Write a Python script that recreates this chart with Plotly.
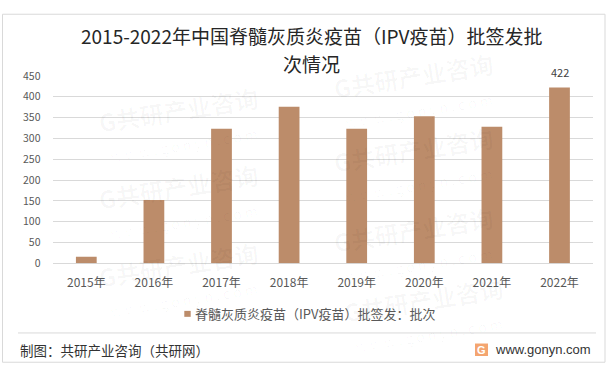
import plotly.graph_objects as go

W, H = 613, 375

# ---- data ----
years = ["2015年", "2016年", "2017年", "2018年", "2019年", "2020年", "2021年", "2022年"]
batches = [16, 152, 323, 376, 323, 353, 328, 422]
series_name = "脊髓灰质炎疫苗（IPV疫苗）批签发：批次"
title_lines = ["2015-2022年中国脊髓灰质炎疫苗（IPV疫苗）批签发批", "次情况"]
y_ticks = [0, 50, 100, 150, 200, 250, 300, 350, 400, 450]
source_text = "制图：共研产业咨询（共研网）"
site_text = "www.gonyn.com"

BAR = "#BC8C6A"
GRID = "#D9D9D9"
CJK = "'Noto Sans CJK SC', 'Microsoft YaHei', sans-serif"
LAT = "'Liberation Sans', Arial, 'Noto Sans CJK SC', sans-serif"


def fx(x):
    return x / W


def fy(y):
    return 1 - y / H


fig = go.Figure(
    go.Bar(
        x=years,
        y=batches,
        name=series_name,
        marker=dict(color=BAR, line=dict(width=0)),
        showlegend=False,
    )
)

fig.update_layout(
    width=W,
    height=H,
    margin=dict(l=0, r=0, t=0, b=0),
    paper_bgcolor="white",
    plot_bgcolor="rgba(0,0,0,0)",
    bargap=0.693,
    showlegend=False,
    font=dict(family=CJK, color="#595959"),
)
fig.update_xaxes(
    domain=[fx(52.5), fx(593.3)],
    showgrid=False,
    showline=False,
    zeroline=False,
    ticks="",
    tickfont=dict(size=12, color="#595959", family=CJK),
    ticklabelstandoff=11,
    fixedrange=True,
)
fig.update_yaxes(
    domain=[fy(266), fy(70.7)],
    range=[0, 450],
    tickvals=y_ticks,
    showgrid=True,
    gridcolor=GRID,
    gridwidth=1,
    zeroline=True,
    zerolinecolor=GRID,
    zerolinewidth=1,
    showline=False,
    ticks="",
    tickfont=dict(size=10.5, color="#595959", family=CJK),
    ticklabelstandoff=11,
    fixedrange=True,
)

ann = []
shapes = []

# faint watermark tiles (decoration)
wm_tiles = [(180, 120), (180, 200), (180, 282), (415, 85), (415, 162), (415, 245), (425, 318)]
for cx, cy in wm_tiles:
    ann.append(dict(
        x=fx(cx), y=fy(cy), xref="paper", yref="paper",
        xanchor="center", yanchor="middle", showarrow=False,
        textangle=-9,
        text="<b>G共研产业咨询</b><br><span style='font-size:14px'>w w w . g o n y n . c o m</span>",
        font=dict(size=24, color="rgba(0,0,0,0.03)", family=CJK),
    ))

# outer border
shapes.append(dict(type="rect", xref="paper", yref="paper",
                   x0=fx(2.5), x1=fx(605), y0=fy(369), y1=fy(6.5),
                   line=dict(color=GRID, width=1), fillcolor="rgba(0,0,0,0)", layer="below"))

# title
ann.append(dict(x=fx(311), y=fy(28.5), xref="paper", yref="paper", xanchor="center",
                yanchor="middle", showarrow=False, text=title_lines[0],
                font=dict(size=19, color="#262626", family=CJK)))
ann.append(dict(x=fx(311), y=fy(57.5), xref="paper", yref="paper", xanchor="center",
                yanchor="middle", showarrow=False, text=title_lines[1],
                font=dict(size=19, color="#262626", family=CJK)))

# data label on last bar
ann.append(dict(x=years[-1], y=batches[-1], xref="x", yref="y", xanchor="center",
                yanchor="bottom", yshift=6, showarrow=False, text=str(batches[-1]),
                font=dict(size=11, color="#404040", family=CJK)))

# legend
shapes.append(dict(type="rect", xref="paper", yref="paper",
                   x0=fx(184.3), x1=fx(190.7), y0=fy(321.7), y1=fy(315.5),
                   line=dict(width=0), fillcolor=BAR))
ann.append(dict(x=fx(193), y=fy(318.5), xref="paper", yref="paper", xanchor="left",
                yanchor="middle", showarrow=False, text=series_name,
                font=dict(size=13, color="#595959", family=CJK)))

# footer separator
shapes.append(dict(type="line", xref="paper", yref="paper",
                   x0=fx(18), x1=fx(596), y0=fy(338.5), y1=fy(338.5),
                   line=dict(color=GRID, width=1)))
ann.append(dict(x=fx(18), y=fy(356.7), xref="paper", yref="paper", xanchor="left",
                yanchor="middle", showarrow=False, text=source_text,
                font=dict(size=13.5, color="#333333", family=CJK)))

# logo
shapes.append(dict(type="rect", xref="paper", yref="paper",
                   x0=fx(475), x1=fx(488), y0=fy(362.5), y1=fy(349.5),
                   line=dict(width=0), fillcolor="#F4A570"))
ann.append(dict(x=fx(481.5), y=fy(356), xref="paper", yref="paper", xanchor="center",
                yanchor="middle", showarrow=False, text="<b>G</b>",
                font=dict(size=11, color="white", family=LAT)))
ann.append(dict(x=fx(493), y=fy(355.7), xref="paper", yref="paper", xanchor="left",
                yanchor="middle", showarrow=False, text=site_text,
                font=dict(size=13, color="#333333", family=LAT)))

fig.update_layout(annotations=ann, shapes=shapes)

fig.write_html(
    "out.html",
    config={"displayModeBar": False},
    post_script="document.body.style.margin='0';document.body.style.overflow='hidden';",
)
